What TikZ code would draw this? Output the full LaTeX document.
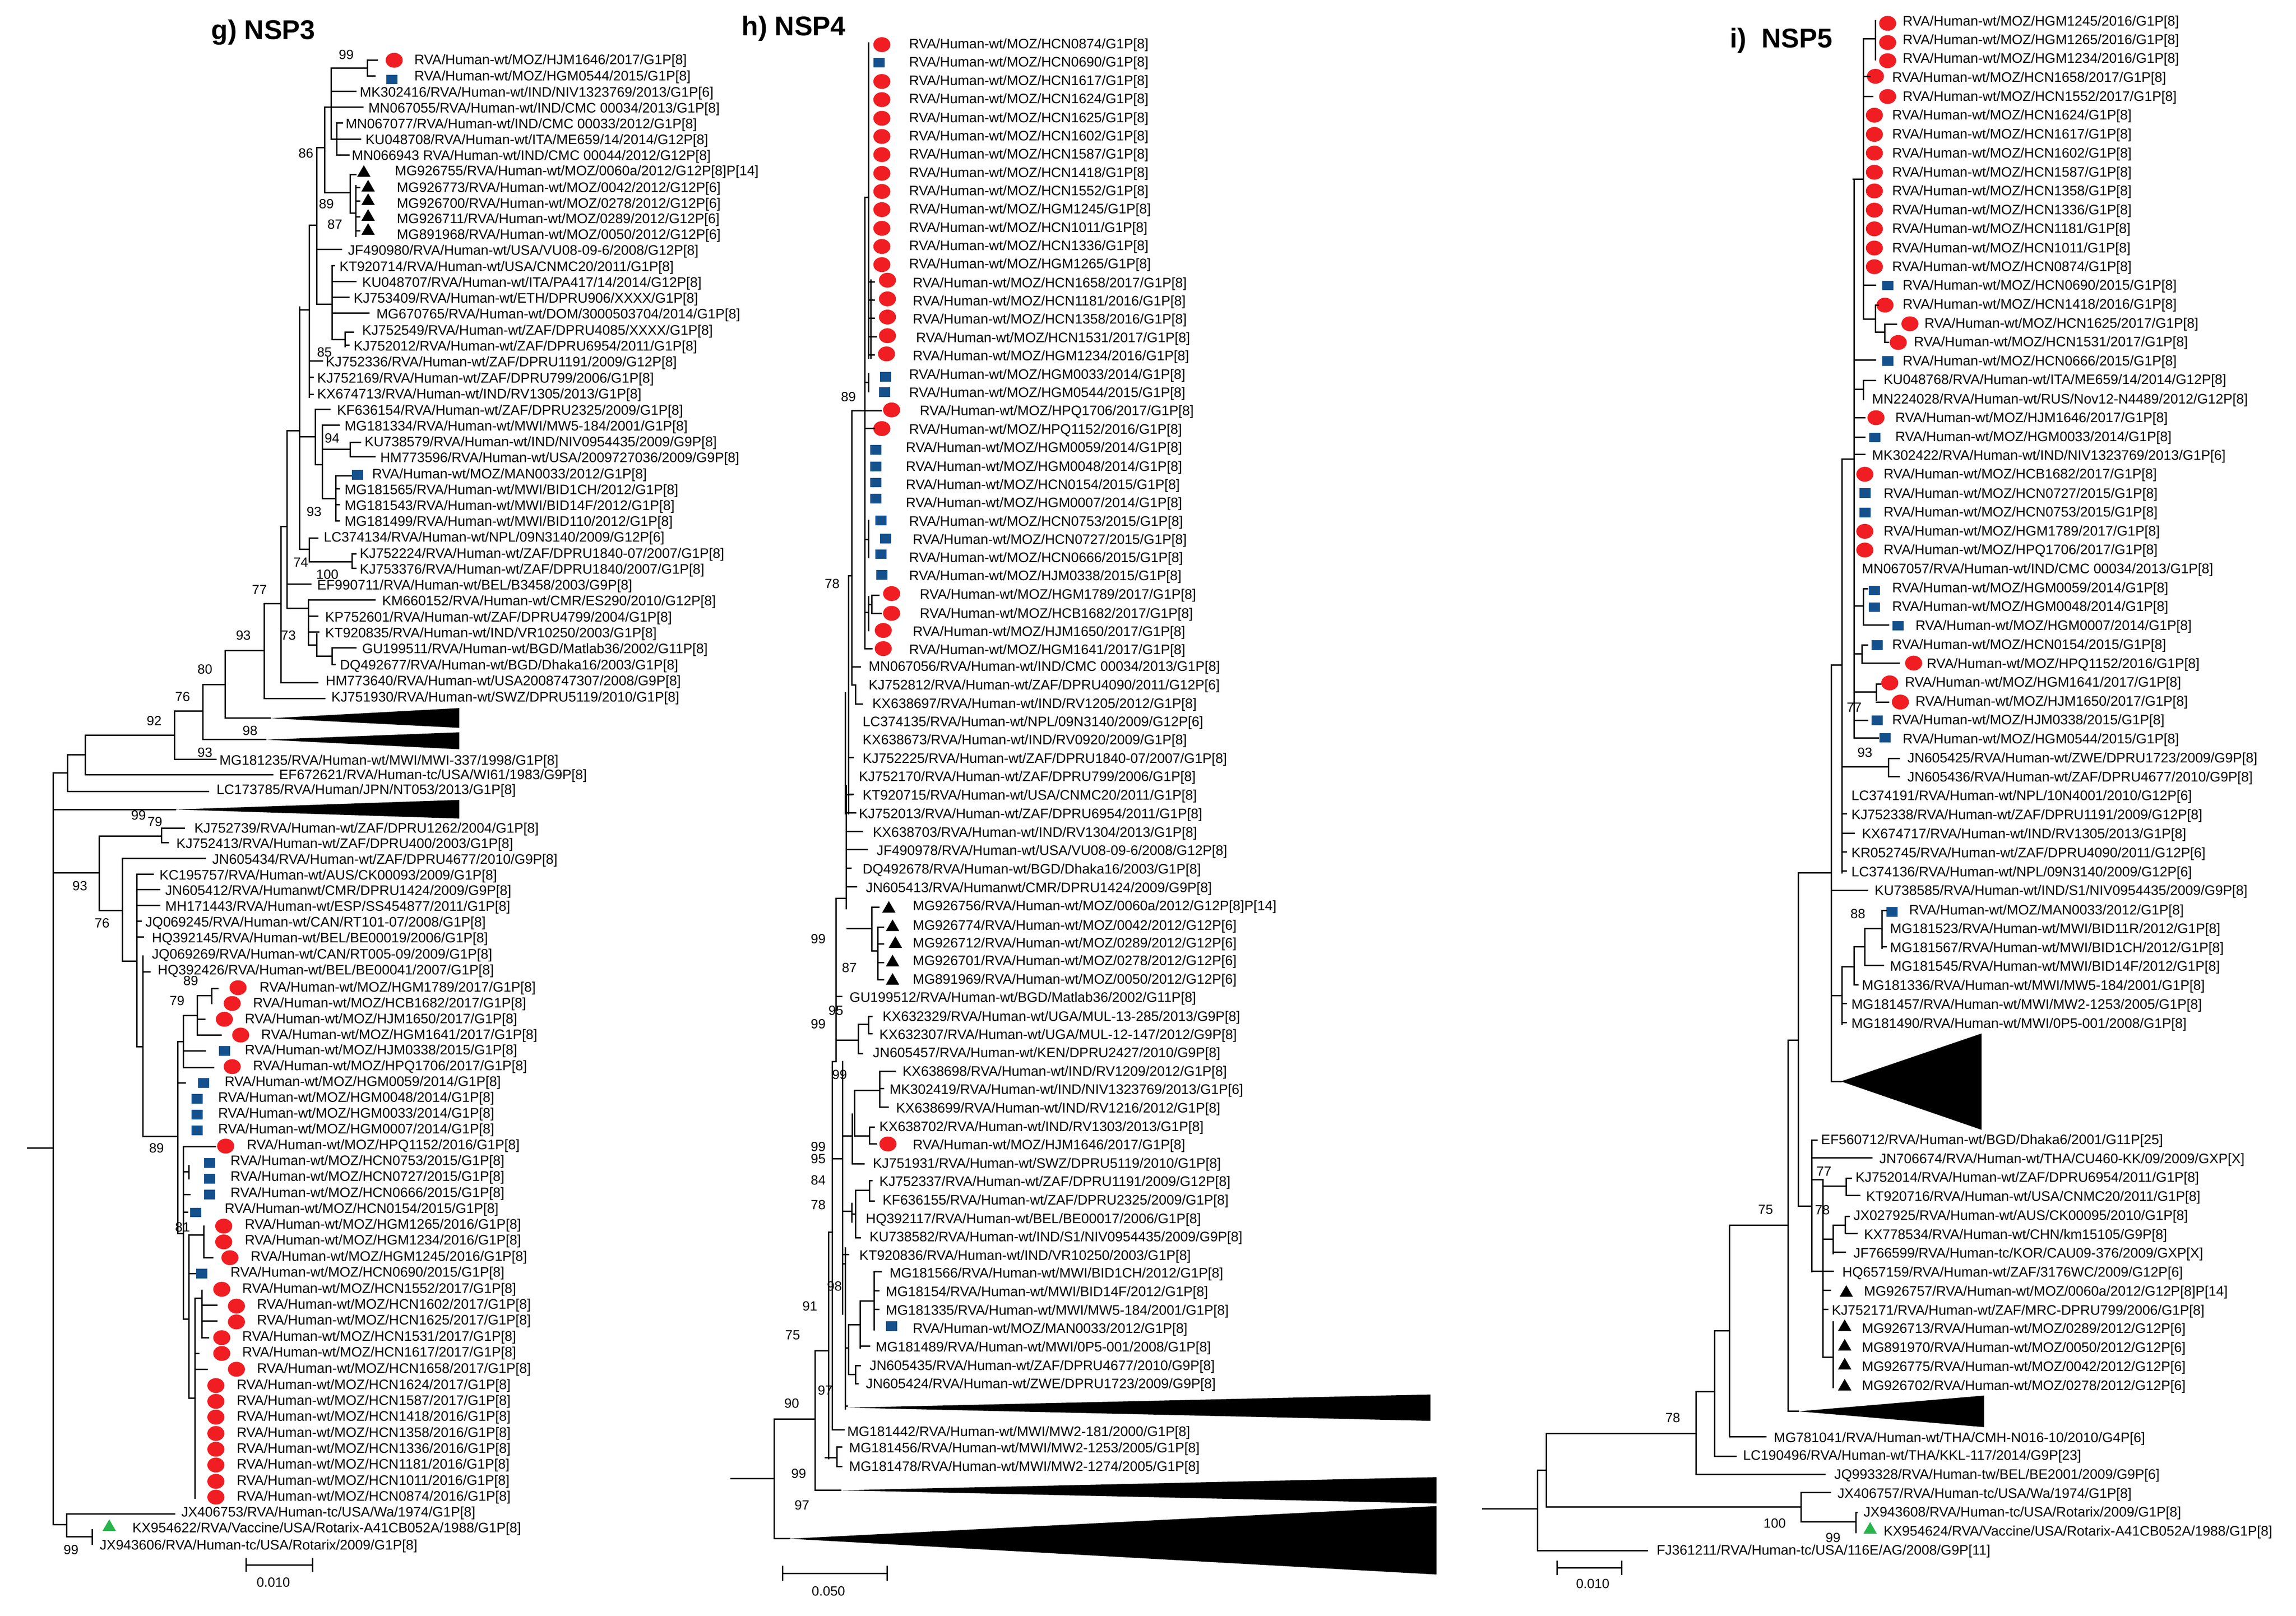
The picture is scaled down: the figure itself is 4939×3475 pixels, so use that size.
\documentclass[tikz,border=0pt]{standalone}
\usepackage{fontspec}
\setmainfont{Liberation Sans}
\usetikzlibrary{shapes.geometric}
\newcounter{nn}
\def\M{RVA/Human-wt/MOZ/}
\newcommand\LF[3]{\stepcounter{nn}\node[lab] (n\arabic{nn}) at (#1,#2) {#3};}
\newcommand\BT[3]{\stepcounter{nn}\node[bs] (n\arabic{nn}) at (#1,#2) {#3};}
\newcommand\mRC[2]{\stepcounter{nn}\node[rc] (n\arabic{nn}) at (#1,#2) {};}
\newcommand\mBS[2]{\stepcounter{nn}\node[sq] (n\arabic{nn}) at (#1,#2) {};}
\newcommand\mTR[2]{\stepcounter{nn}\node[tri] (n\arabic{nn}) at (#1,#2) {};}
\newcommand\mGT[2]{\stepcounter{nn}\node[tri,fill={rgb,255:red,40;green,180;blue,75}] (n\arabic{nn}) at (#1,#2) {};}
\newcommand\HB[3]{\draw[br] (#1,#3)--(#2,#3);}
\newcommand\VB[3]{\draw[br] (#1,#2)--(#1,#3);}
\newcommand\WD[5]{\fill (#1,#2)--(#3,#4)--(#3,#5)--cycle;}
\begin{document}
\begin{tikzpicture}[x=0.3pt,y=-0.3pt,
 lab/.style={anchor=west,inner sep=0pt,font=\fontsize{8.9}{9}\selectfont,text height=0.72em,text depth=0pt},
 bs/.style={inner sep=0pt,font=\fontsize{8.6}{9}\selectfont},
 ttl/.style={anchor=west,inner sep=0pt,font=\fontsize{17.5}{18}\selectfont\bfseries},
 rc/.style={ellipse,fill={rgb,255:red,240;green,30;blue,35},inner sep=0pt,minimum width=11pt,minimum height=9.6pt},
 sq/.style={rectangle,fill={rgb,255:red,20;green,80;blue,140},inner sep=0pt,minimum width=7.2pt,minimum height=6.2pt},
 tri/.style={regular polygon,regular polygon sides=3,fill=black,inner sep=0pt,minimum size=10pt},
 br/.style={line width=0.9pt,line cap=rect}]
\fill[white] (0,0) rectangle (4939,3475);
\useasboundingbox (0,0) rectangle (4939,3475);
% ================= g) NSP3 upper
\begin{scope}[shift={(0,0)},xscale=1.0204,yscale=1.2117]
\stepcounter{nn}\node[ttl] (tg) at (445,57) {g) NSP3};
\mRC{831}{107}\mBS{826}{141}
\LF{873}{104}{\M HJM1646/2017/G1P[8]}
\LF{873}{133}{\M HGM0544/2015/G1P[8]}
\LF{758}{162}{MK302416/RVA/Human-wt/IND/NIV1323769/2013/G1P[6]}
\LF{776}{190}{MN067055/RVA/Human-wt/IND/CMC 00034/2013/G1P[8]}
\LF{728}{218}{MN067077/RVA/Human-wt/IND/CMC 00033/2012/G1P[8]}
\LF{770}{246}{KU048708/RVA/Human-wt/ITA/ME659/14/2014/G12P[8]}
\LF{741}{274}{MN066943 RVA/Human-wt/IND/CMC 00044/2012/G12P[8]}
\mTR{767}{307}\mTR{776}{333}\mTR{776}{357}\mTR{776}{385}\mTR{776}{410}
\LF{832}{302}{MG926755/RVA/Human-wt/MOZ/0060a/2012/G12P[8]P[14]}
\LF{836}{331}{MG926773/RVA/Human-wt/MOZ/0042/2012/G12P[6]}
\LF{836}{359}{MG926700/RVA/Human-wt/MOZ/0278/2012/G12P[6]}
\LF{836}{387}{MG926711/RVA/Human-wt/MOZ/0289/2012/G12P[6]}
\LF{836}{415}{MG891968/RVA/Human-wt/MOZ/0050/2012/G12P[6]}
\LF{733}{443}{JF490980/RVA/Human-wt/USA/VU08-09-6/2008/G12P[8]}
\LF{715}{472}{KT920714/RVA/Human-wt/USA/CNMC20/2011/G1P[8]}
\LF{763}{500}{KU048707/RVA/Human-wt/ITA/PA417/14/2014/G12P[8]}
\LF{745}{528}{KJ753409/RVA/Human-wt/ETH/DPRU906/XXXX/G1P[8]}
\LF{793}{556}{MG670765/RVA/Human-wt/DOM/3000503704/2014/G1P[8]}
\LF{763}{585}{KJ752549/RVA/Human-wt/ZAF/DPRU4085/XXXX/G1P[8]}
\LF{745}{613}{KJ752012/RVA/Human-wt/ZAF/DPRU6954/2011/G1P[8]}
\LF{686}{641}{KJ752336/RVA/Human-wt/ZAF/DPRU1191/2009/G12P[8]}
\LF{668}{670}{KJ752169/RVA/Human-wt/ZAF/DPRU799/2006/G1P[8]}
\LF{668}{698}{KX674713/RVA/Human-wt/IND/RV1305/2013/G1P[8]}
\LF{710}{727}{KF636154/RVA/Human-wt/ZAF/DPRU2325/2009/G1P[8]}
\LF{726}{755}{MG181334/RVA/Human-wt/MWI/MW5-184/2001/G1P[8]}
\LF{768}{783}{KU738579/RVA/Human-wt/IND/NIV0954435/2009/G9P[8]}
\LF{801}{811}{HM773596/RVA/Human-wt/USA/2009727036/2009/G9P[8]}
\mBS{754}{843}
\LF{784}{840}{\M MAN0033/2012/G1P[8]}
\LF{726}{868}{MG181565/RVA/Human-wt/MWI/BID1CH/2012/G1P[8]}
\LF{726}{896}{MG181543/RVA/Human-wt/MWI/BID14F/2012/G1P[8]}
\LF{726}{924}{MG181499/RVA/Human-wt/MWI/BID110/2012/G1P[8]}
\LF{682}{952}{LC374134/RVA/Human-wt/NPL/09N3140/2009/G12P[6]}
\LF{758}{981}{KJ752224/RVA/Human-wt/ZAF/DPRU1840-07/2007/G1P[8]}
\LF{758}{1009}{KJ753376/RVA/Human-wt/ZAF/DPRU1840/2007/G1P[8]}
\LF{668}{1037}{EF990711/RVA/Human-wt/BEL/B3458/2003/G9P[8]}
\LF{805}{1065}{KM660152/RVA/Human-wt/CMR/ES290/2010/G12P[8]}
\LF{685}{1094}{KP752601/RVA/Human-wt/ZAF/DPRU4799/2004/G1P[8]}
\LF{685}{1122}{KT920835/RVA/Human-wt/IND/VR10250/2003/G1P[8]}
\LF{763}{1150}{GU199511/RVA/Human-wt/BGD/Matlab36/2002/G11P[8]}
\LF{716}{1179}{DQ492677/RVA/Human-wt/BGD/Dhaka16/2003/G1P[8]}
\LF{686}{1207}{HM773640/RVA/Human-wt/USA2008747307/2008/G9P[8]}
\LF{698}{1236}{KJ751930/RVA/Human-wt/SWZ/DPRU5119/2010/G1P[8]}
\LF{462}{1348}{MG181235/RVA/Human-wt/MWI/MWI-337/1998/G1P[8]}
\LF{588}{1374}{EF672621/RVA/Human-tc/USA/WI61/1983/G9P[8]}
\LF{456}{1400}{LC173785/RVA/Human/JPN/NT053/2013/G1P[8]}
% bootstraps
\BT{730}{97}{99}\BT{645}{272}{86}\BT{688}{362}{89}\BT{706}{398}{87}\BT{684}{625}{85}
\BT{700}{778}{94}\BT{662}{908}{93}\BT{634}{998}{74}\BT{690}{1020}{100}\BT{547}{1047}{77}
\BT{608}{1128}{73}\BT{513}{1128}{93}\BT{432}{1188}{80}\BT{385}{1237}{76}\BT{527}{1297}{98}
\BT{325}{1280}{92}\BT{432}{1336}{93}\BT{292}{1447}{99}
% branches
\VB{775}{107}{135}\HB{775}{795}{107}\HB{775}{790}{135}\HB{698}{775}{121}
\VB{698}{121}{247}\HB{698}{750}{162}\HB{698}{765}{190}\HB{698}{710}{247}
\VB{710}{218}{275}\HB{710}{722}{218}\HB{710}{760}{247}\HB{710}{735}{275}
\VB{685}{190}{342}\HB{685}{698}{190}\HB{685}{738}{342}
\VB{738}{310}{378}\HB{738}{750}{310}\HB{738}{750}{378}\VB{750}{330}{420}
\HB{750}{758}{333}\HB{750}{758}{357}\HB{750}{758}{385}\HB{750}{758}{410}
\VB{668}{262}{540}\HB{668}{685}{262}\HB{668}{720}{443}\HB{668}{700}{540}
\VB{700}{472}{603}\HB{700}{705}{472}\HB{700}{750}{500}\HB{700}{735}{528}\HB{700}{778}{556}\HB{700}{728}{603}
\VB{728}{590}{615}\HB{728}{745}{590}\HB{728}{735}{613}
\VB{652}{400}{705}\HB{652}{668}{400}\HB{652}{680}{641}\HB{652}{660}{670}\HB{652}{660}{700}
\VB{665}{727}{825}\HB{665}{695}{727}\HB{665}{680}{825}\VB{680}{755}{885}\HB{680}{715}{755}
\HB{680}{738}{798}\VB{738}{785}{811}\HB{738}{760}{785}\HB{738}{790}{811}
\HB{680}{708}{885}\VB{708}{845}{925}\HB{708}{740}{845}\HB{708}{715}{868}\HB{708}{715}{896}\HB{708}{715}{925}
\VB{632}{545}{975}\HB{632}{652}{550}\HB{632}{665}{775}\HB{632}{652}{975}
\VB{652}{955}{997}\HB{652}{670}{955}\HB{652}{742}{997}\VB{742}{983}{1009}\HB{742}{750}{983}\HB{742}{750}{1009}
\VB{605}{765}{1080}\HB{605}{632}{765}\HB{605}{655}{1037}\HB{605}{650}{1080}
\VB{650}{1065}{1145}\HB{650}{790}{1065}\HB{650}{670}{1094}\HB{650}{668}{1145}\HB{650}{672}{1122}
\VB{668}{1125}{1165}\HB{668}{700}{1165}\VB{700}{1150}{1180}\HB{700}{750}{1150}\HB{700}{706}{1180}
\VB{592}{935}{1212}\HB{592}{605}{935}\HB{592}{670}{1212}
\VB{557}{1072}{1240}\HB{557}{592}{1072}\HB{557}{685}{1240}
\VB{475}{1155}{1275}\HB{475}{557}{1155}\HB{475}{570}{1275}\WD{570}{1275}{968}{1257}{1292}
\VB{428}{1215}{1313}\HB{428}{475}{1215}\HB{428}{560}{1313}\WD{560}{1313}{968}{1300}{1330}
\VB{368}{1262}{1348}\HB{368}{428}{1262}\HB{368}{455}{1348}
\VB{180}{1305}{1375}\HB{180}{368}{1305}\HB{180}{575}{1375}
\VB{143}{1340}{1405}\HB{143}{180}{1340}\HB{143}{440}{1405}
\HB{113}{143}{1372}\HB{113}{370}{1437}\WD{370}{1437}{968}{1420}{1453}
\end{scope}
% ================= g) NSP3 lower
\begin{scope}[shift={(0,1700)},xscale=0.7015,yscale=1.1320]
\VB{163}{-33}{1395}\HB{85}{163}{680}
\LF{595}{70}{KJ752739/RVA/Human-wt/ZAF/DPRU1262/2004/G1P[8]}
\LF{540}{99}{KJ752413/RVA/Human-wt/ZAF/DPRU400/2003/G1P[8]}
\LF{650}{129}{JN605434/RVA/Human-wt/ZAF/DPRU4677/2010/G9P[8]}
\LF{488}{159}{KC195757/RVA/Human-wt/AUS/CK00093/2009/G1P[8]}
\LF{506}{189}{JN605412/RVA/Humanwt/CMR/DPRU1424/2009/G9P[8]}
\LF{506}{219}{MH171443/RVA/Human-wt/ESP/SS454877/2011/G1P[8]}
\LF{445}{249}{JQ069245/RVA/Human-wt/CAN/RT101-07/2008/G1P[8]}
\LF{465}{279}{HQ392145/RVA/Human-wt/BEL/BE00019/2006/G1P[8]}
\LF{465}{310}{JQ069269/RVA/Human-wt/CAN/RT005-09/2009/G1P[8]}
\LF{483}{340}{HQ392426/RVA/Human-wt/BEL/BE00041/2007/G1P[8]}
\mRC{730}{375}\LF{795}{372}{\M HGM1789/2017/G1P[8]}
\mRC{712}{405}\LF{775}{402}{\M HCB1682/2017/G1P[8]}
\mRC{688}{435}\LF{750}{432}{\M HJM1650/2017/G1P[8]}
\mRC{738}{465}\LF{800}{462}{\M HGM1641/2017/G1P[8]}
\mBS{688}{495}\LF{750}{492}{\M HJM0338/2015/G1P[8]}
\mRC{712}{525}\LF{775}{522}{\M HPQ1706/2017/G1P[8]}
\mBS{625}{556}\LF{688}{552}{\M HGM0059/2014/G1P[8]}
\mBS{605}{586}\LF{668}{582}{\M HGM0048/2014/G1P[8]}
\mBS{605}{616}\LF{668}{612}{\M HGM0033/2014/G1P[8]}
\mBS{605}{646}\LF{668}{642}{\M HGM0007/2014/G1P[8]}
\mRC{692}{676}\LF{756}{672}{\M HPQ1152/2016/G1P[8]}
\mBS{643}{708}\LF{706}{702}{\M HCN0753/2015/G1P[8]}
\mBS{643}{738}\LF{706}{732}{\M HCN0727/2015/G1P[8]}
\mBS{643}{768}\LF{706}{763}{\M HCN0666/2015/G1P[8]}
\mBS{600}{802}\LF{688}{793}{\M HCN0154/2015/G1P[8]}
\mRC{686}{828}\LF{750}{823}{\M HGM1265/2016/G1P[8]}
\mRC{686}{858}\LF{750}{853}{\M HGM1234/2016/G1P[8]}
\mRC{705}{888}\LF{768}{884}{\M HGM1245/2016/G1P[8]}
\mBS{618}{918}\LF{706}{914}{\M HCN0690/2015/G1P[8]}
\mRC{680}{948}\LF{742}{945}{\M HCN1552/2017/G1P[8]}
\mRC{725}{980}\LF{787}{975}{\M HCN1602/2017/G1P[8]}
\mRC{725}{1010}\LF{787}{1005}{\M HCN1625/2017/G1P[8]}
\mRC{680}{1040}\LF{742}{1036}{\M HCN1531/2017/G1P[8]}
\mRC{680}{1070}\LF{742}{1066}{\M HCN1617/2017/G1P[8]}
\mRC{725}{1100}\LF{787}{1097}{\M HCN1658/2017/G1P[8]}
\mRC{662}{1131}\LF{725}{1128}{\M HCN1624/2017/G1P[8]}
\mRC{662}{1161}\LF{725}{1158}{\M HCN1587/2017/G1P[8]}
\mRC{662}{1191}\LF{725}{1188}{\M HCN1418/2016/G1P[8]}
\mRC{662}{1222}\LF{725}{1219}{\M HCN1358/2016/G1P[8]}
\mRC{662}{1252}\LF{725}{1249}{\M HCN1336/2016/G1P[8]}
\mRC{662}{1282}\LF{725}{1279}{\M HCN1181/2016/G1P[8]}
\mRC{662}{1313}\LF{725}{1310}{\M HCN1011/2016/G1P[8]}
\mRC{662}{1343}\LF{725}{1340}{\M HCN0874/2016/G1P[8]}
\LF{555}{1370}{JX406753/RVA/Human-tc/USA/Wa/1974/G1P[8]}
\mGT{335}{1400}\LF{405}{1400}{KX954622/RVA/Vaccine/USA/Rotarix-A41CB052A/1988/G1P[8]}
\LF{305}{1432}{JX943606/RVA/Human-tc/USA/Rotarix/2009/G1P[8]}
\BT{475}{60}{79}\BT{245}{182}{93}\BT{313}{252}{76}\BT{480}{680}{89}\BT{585}{362}{89}
\BT{543}{400}{79}\BT{560}{830}{81}\BT{218}{1443}{99}
\VB{495}{72}{99}\HB{495}{565}{72}\HB{495}{515}{99}
\VB{305}{87}{228}\HB{305}{495}{87}\HB{163}{305}{157}
\VB{375}{129}{325}\HB{375}{630}{129}\HB{305}{375}{228}
\VB{420}{159}{487}\HB{420}{470}{159}\HB{420}{490}{189}\HB{420}{490}{219}\HB{420}{432}{249}\HB{420}{440}{279}\HB{375}{420}{325}
\VB{438}{315}{658}\HB{420}{438}{487}\HB{438}{460}{345}\HB{438}{545}{658}
\VB{650}{377}{405}\HB{650}{668}{377}\VB{605}{390}{465}\HB{605}{650}{390}\HB{605}{628}{435}\HB{605}{678}{465}
\VB{562}{428}{527}\HB{562}{605}{428}\HB{562}{630}{495}\HB{562}{655}{527}
\VB{545}{477}{842}\HB{545}{562}{477}\HB{545}{568}{556}\HB{545}{562}{842}
\VB{562}{677}{1005}\HB{562}{660}{677}\VB{580}{713}{738}\HB{562}{580}{725}\HB{562}{582}{768}\HB{562}{575}{802}
\VB{580}{845}{1155}\HB{562}{580}{1005}\HB{580}{625}{845}\VB{625}{828}{888}\HB{625}{652}{888}\HB{580}{600}{918}
\VB{620}{950}{1040}\HB{598}{620}{965}\HB{620}{665}{978}\HB{620}{665}{1008}\HB{620}{640}{1040}
\VB{598}{965}{1345}\HB{580}{598}{1155}\HB{598}{610}{1070}\HB{598}{635}{1100}
\VB{205}{1375}{1418}\HB{163}{205}{1395}\HB{205}{535}{1375}\HB{205}{283}{1418}\VB{283}{1405}{1432}
\HB{755}{958}{1472}\VB{755}{1460}{1484}\VB{958}{1460}{1484}
\BT{838}{1505}{0.010}
\end{scope}
% ================= h) NSP4 upper
\begin{scope}[shift={(1550,0)},xscale=1,yscale=1.1161]
\stepcounter{nn}\node[ttl] (th) at (45,55) {h) NSP4};
\foreach \y/\c/\t in {83/r/HCN0874/2016,118/b/HCN0690/2015,154/r/HCN1617/2017,189/r/HCN1624/2017,225/r/HCN1625/2017,260/r/HCN1602/2017,295/r/HCN1587/2017,331/r/HCN1418/2016,366/r/HCN1552/2017,401/r/HGM1245/2016,437/r/HCN1011/2016,472/r/HCN1336/2016,507/r/HGM1265/2016}{
 \if\c r\mRC{347}{\y+3}\else\mBS{341}{\y+3}\fi
 \LF{405}{\y}{\M\t/G1P[8]}}
\mRC{359}{540}\LF{413}{543}{\M HCN1658/2017/G1P[8]}
\mRC{359}{576}\LF{413}{578}{\M HCN1181/2016/G1P[8]}
\mRC{359}{611}\LF{413}{613}{\M HCN1358/2016/G1P[8]}
\mRC{359}{647}\LF{420}{649}{\M HCN1531/2017/G1P[8]}
\mRC{357}{682}\LF{413}{684}{\M HGM1234/2016/G1P[8]}
\mBS{355}{726}\LF{405}{720}{\M HGM0033/2014/G1P[8]}
\mBS{353}{756}\LF{405}{755}{\M HGM0544/2015/G1P[8]}
\mRC{368}{790}\LF{428}{790}{\M HPQ1706/2017/G1P[8]}
\mRC{347}{826}\LF{405}{826}{\M HPQ1152/2016/G1P[8]}
\mBS{334}{867}\LF{398}{861}{\M HGM0059/2014/G1P[8]}
\mBS{334}{899}\LF{398}{897}{\M HGM0048/2014/G1P[8]}
\mBS{334}{930}\LF{398}{932}{\M HCN0154/2015/G1P[8]}
\mBS{334}{961}\LF{398}{967}{\M HGM0007/2014/G1P[8]}
\mBS{345}{1003}\LF{405}{1003}{\M HCN0753/2015/G1P[8]}
\mBS{355}{1038}\LF{413}{1038}{\M HCN0727/2015/G1P[8]}
\mBS{345}{1068}\LF{405}{1073}{\M HCN0666/2015/G1P[8]}
\mBS{347}{1108}\LF{405}{1108}{\M HJM0338/2015/G1P[8]}
\mRC{368}{1144}\LF{428}{1144}{\M HGM1789/2017/G1P[8]}
\mRC{368}{1182}\LF{428}{1180}{\M HCB1682/2017/G1P[8]}
\mRC{350}{1215}\LF{413}{1215}{\M HJM1650/2017/G1P[8]}
\mRC{350}{1250}\LF{405}{1250}{\M HGM1641/2017/G1P[8]}
\LF{318}{1283}{MN067056/RVA/Human-wt/IND/CMC 00034/2013/G1P[8]}
\LF{318}{1318}{KJ752812/RVA/Human-wt/ZAF/DPRU4090/2011/G12P[6]}
\LF{326}{1354}{KX638697/RVA/Human-wt/IND/RV1205/2012/G1P[8]}
\LF{305}{1389}{LC374135/RVA/Human-wt/NPL/09N3140/2009/G12P[6]}
\LF{305}{1424}{KX638673/RVA/Human-wt/IND/RV0920/2009/G1P[8]}
\LF{305}{1460}{KJ752225/RVA/Human-wt/ZAF/DPRU1840-07/2007/G1P[8]}
\LF{297}{1495}{KJ752170/RVA/Human-wt/ZAF/DPRU799/2006/G1P[8]}
\LF{305}{1531}{KT920715/RVA/Human-wt/USA/CNMC20/2011/G1P[8]}
\BT{275}{765}{89}\BT{240}{1125}{78}
\VB{318}{83}{690}\VB{323}{540}{690}\HB{318}{330}{543}\HB{318}{330}{578}\HB{318}{330}{613}\HB{318}{335}{649}\HB{318}{330}{684}
\VB{310}{380}{1250}\HB{310}{318}{380}\VB{318}{720}{755}\HB{310}{318}{737}\HB{282}{345}{792}\HB{310}{330}{826}
\VB{318}{1003}{1075}\HB{310}{318}{1040}\VB{318}{1150}{1215}\HB{310}{318}{1180}\VB{325}{1147}{1182}\HB{325}{340}{1147}\HB{325}{345}{1182}\HB{318}{325}{1165}
\HB{310}{325}{1250}
\VB{282}{792}{1320}\HB{282}{300}{1285}\VB{290}{1320}{1357}\HB{282}{290}{1320}\HB{290}{305}{1357}
\VB{275}{1110}{1568}\HB{275}{282}{1110}\HB{275}{285}{1460}\HB{275}{285}{1531}\VB{268}{1335}{1568}
\end{scope}
% ================= h) NSP4 lower
\begin{scope}[shift={(1550,1700)},xscale=1,yscale=1.1320]
\LF{297}{43}{KJ752013/RVA/Human-wt/ZAF/DPRU6954/2011/G1P[8]}
\LF{327}{78}{KX638703/RVA/Human-wt/IND/RV1304/2013/G1P[8]}
\LF{335}{113}{JF490978/RVA/Human-wt/USA/VU08-09-6/2008/G12P[8]}
\LF{305}{148}{DQ492678/RVA/Human-wt/BGD/Dhaka16/2003/G1P[8]}
\LF{312}{183}{JN605413/RVA/Humanwt/CMR/DPRU1424/2009/G9P[8]}
\mTR{362}{225}\LF{413}{218}{MG926756/RVA/Human-wt/MOZ/0060a/2012/G12P[8]P[14]}
\mTR{370}{260}\LF{413}{255}{MG926774/RVA/Human-wt/MOZ/0042/2012/G12P[6]}
\mTR{376}{292}\LF{413}{288}{MG926712/RVA/Human-wt/MOZ/0289/2012/G12P[6]}
\mTR{370}{327}\LF{413}{322}{MG926701/RVA/Human-wt/MOZ/0278/2012/G12P[6]}
\mTR{370}{362}\LF{413}{357}{MG891969/RVA/Human-wt/MOZ/0050/2012/G12P[6]}
\LF{277}{392}{GU199512/RVA/Human-wt/BGD/Matlab36/2002/G11P[8]}
\LF{348}{428}{KX632329/RVA/Human-wt/UGA/MUL-13-285/2013/G9P[8]}
\LF{341}{462}{KX632307/RVA/Human-wt/UGA/MUL-12-147/2012/G9P[8]}
\LF{327}{497}{JN605457/RVA/Human-wt/KEN/DPRU2427/2010/G9P[8]}
\LF{391}{532}{KX638698/RVA/Human-wt/IND/RV1209/2012/G1P[8]}
\LF{363}{567}{MK302419/RVA/Human-wt/IND/NIV1323769/2013/G1P[6]}
\LF{377}{602}{KX638699/RVA/Human-wt/IND/RV1216/2012/G1P[8]}
\LF{341}{637}{KX638702/RVA/Human-wt/IND/RV1303/2013/G1P[8]}
\mRC{360}{672}\LF{413}{672}{\M HJM1646/2017/G1P[8]}
\LF{327}{707}{KJ751931/RVA/Human-wt/SWZ/DPRU5119/2010/G1P[8]}
\LF{341}{742}{KJ752337/RVA/Human-wt/ZAF/DPRU1191/2009/G12P[8]}
\LF{348}{777}{KF636155/RVA/Human-wt/ZAF/DPRU2325/2009/G1P[8]}
\LF{312}{812}{HQ392117/RVA/Human-wt/BEL/BE00017/2006/G1P[8]}
\LF{320}{847}{KU738582/RVA/Human-wt/IND/S1/NIV0954435/2009/G9P[8]}
\LF{298}{882}{KT920836/RVA/Human-wt/IND/VR10250/2003/G1P[8]}
\LF{363}{916}{MG181566/RVA/Human-wt/MWI/BID1CH/2012/G1P[8]}
\LF{355}{951}{MG18154/RVA/Human-wt/MWI/BID14F/2012/G1P[8]}
\LF{355}{986}{MG181335/RVA/Human-wt/MWI/MW5-184/2001/G1P[8]}
\mBS{368}{1018}\LF{413}{1021}{\M MAN0033/2012/G1P[8]}
\LF{333}{1056}{MG181489/RVA/Human-wt/MWI/0P5-001/2008/G1P[8]}
\LF{320}{1091}{JN605435/RVA/Human-wt/ZAF/DPRU4677/2010/G9P[8]}
\LF{312}{1126}{JN605424/RVA/Human-wt/ZWE/DPRU1723/2009/G9P[8]}
\LF{272}{1217}{MG181442/RVA/Human-wt/MWI/MW2-181/2000/G1P[8]}
\LF{276}{1248}{MG181456/RVA/Human-wt/MWI/MW2-1253/2005/G1P[8]}
\LF{276}{1283}{MG181478/RVA/Human-wt/MWI/MW2-1274/2005/G1P[8]}
\BT{277}{337}{87}\BT{210}{282}{99}\BT{248}{418}{95}\BT{210}{444}{99}\BT{256}{540}{99}
\BT{210}{677}{99}\BT{210}{700}{95}\BT{210}{741}{84}\BT{210}{788}{78}\BT{245}{942}{98}
\BT{192}{980}{91}\BT{225}{1140}{97}\BT{155}{1035}{75}\BT{153}{1165}{90}\BT{168}{1298}{99}\BT{175}{1358}{97}
\VB{270}{-8}{225}\HB{270}{282}{8}\HB{270}{290}{43}\HB{270}{305}{78}\HB{270}{315}{113}\HB{270}{280}{148}\HB{270}{292}{183}
\HB{272}{325}{263}\VB{325}{222}{305}\HB{325}{340}{222}\HB{325}{338}{305}\VB{338}{260}{360}
\HB{338}{350}{260}\HB{338}{350}{292}\HB{338}{350}{327}\HB{338}{350}{360}
\VB{248}{205}{515}\HB{248}{270}{205}\HB{248}{260}{392}
\VB{318}{430}{462}\HB{318}{325}{430}\HB{318}{325}{462}\VB{296}{445}{500}\HB{296}{318}{445}\HB{296}{305}{500}\HB{248}{296}{475}
\VB{240}{515}{1215}\HB{240}{248}{515}
\VB{342}{534}{602}\HB{342}{375}{534}\HB{342}{350}{567}\HB{342}{360}{602}
\VB{320}{640}{672}\HB{320}{330}{640}\HB{320}{335}{672}
\VB{288}{570}{657}\HB{288}{342}{570}\HB{288}{320}{657}\VB{283}{615}{710}\HB{283}{308}{710}\HB{262}{283}{657}
\VB{320}{742}{780}\HB{320}{325}{742}\HB{320}{330}{780}\VB{290}{760}{850}\HB{290}{320}{760}\HB{290}{300}{850}
\VB{282}{785}{820}\HB{282}{290}{805}\HB{262}{282}{800}\HB{262}{275}{882}
\VB{330}{915}{1025}\HB{330}{345}{915}\HB{330}{340}{951}\HB{330}{340}{986}\HB{300}{330}{970}
\VB{300}{970}{1060}\HB{300}{320}{1056}\HB{275}{300}{1015}
\VB{290}{1093}{1128}\HB{275}{290}{1110}\HB{290}{300}{1093}\HB{290}{295}{1128}
\VB{262}{515}{995}\HB{240}{262}{700}\VB{268}{870}{1175}\HB{262}{268}{900}\VB{275}{1015}{1110}\HB{268}{275}{1060}
\HB{268}{272}{1170}\WD{272}{1173}{1527}{1148}{1198}
\HB{240}{265}{1215}\VB{250}{1248}{1285}\HB{250}{260}{1248}\HB{250}{260}{1285}\HB{225}{250}{1268}
\VB{232}{840}{1270}\HB{232}{240}{840}\HB{225}{232}{1268}
\VB{203}{1065}{1330}\HB{203}{232}{1065}\HB{203}{258}{1330}\WD{258}{1330}{1540}{1305}{1355}
\VB{115}{1195}{1422}\HB{115}{203}{1195}\HB{22}{115}{1308}\HB{115}{148}{1422}\WD{148}{1422}{1540}{1360}{1490}
\HB{133}{358}{1488}\VB{133}{1475}{1500}\VB{358}{1475}{1500}
\BT{232}{1522}{0.050}
\end{scope}
% ================= i) NSP5 upper
\begin{scope}[shift={(3150,0)},xscale=1.1410,yscale=1.1161]
\stepcounter{nn}\node[ttl] (ti) at (500,78) {i)\ \ NSP5};
\mRC{798}{45}\LF{826}{39}{\M HGM1245/2016/G1P[8]}
\mRC{798}{82}\LF{826}{75}{\M HGM1265/2016/G1P[8]}
\mRC{798}{117}\LF{826}{111}{\M HGM1234/2016/G1P[8]}
\mRC{775}{147}\LF{806}{147}{\M HCN1658/2017/G1P[8]}
\mRC{798}{186}\LF{826}{184}{\M HCN1552/2017/G1P[8]}
\foreach \y/\t in {220/HCN1624/2017,257/HCN1617/2017,293/HCN1602/2017,330/HCN1587/2017,366/HCN1358/2016,403/HCN1336/2016,439/HCN1181/2016,476/HCN1011/2016,512/HCN0874/2016}{
 \mRC{773}{\y+2}\LF{806}{\y}{\M\t/G1P[8]}}
\mBS{798}{550}\LF{826}{548}{\M HCN0690/2015/G1P[8]}
\mRC{793}{588}\LF{826}{585}{\M HCN1418/2016/G1P[8]}
\mRC{840}{624}\LF{867}{621}{\M HCN1625/2017/G1P[8]}
\mRC{818}{660}\LF{847}{657}{\M HCN1531/2017/G1P[8]}
\mBS{798}{696}\LF{826}{694}{\M HCN0666/2015/G1P[8]}
\LF{790}{730}{KU048768/RVA/Human-wt/ITA/ME659/14/2014/G12P[8]}
\LF{768}{767}{MN224028/RVA/Human-wt/RUS/Nov12-N4489/2012/G12P[8]}
\mRC{776}{805}\LF{812}{803}{\M HJM1646/2017/G1P[8]}
\mBS{774}{843}\LF{812}{840}{\M HGM0033/2014/G1P[8]}
\LF{768}{876}{MK302422/RVA/Human-wt/IND/NIV1323769/2013/G1P[6]}
\mRC{755}{914}\LF{790}{912}{\M HCB1682/2017/G1P[8]}
\mBS{755}{950}\LF{790}{949}{\M HCN0727/2015/G1P[8]}
\mBS{755}{988}\LF{790}{985}{\M HCN0753/2015/G1P[8]}
\mRC{755}{1024}\LF{790}{1022}{\M HGM1789/2017/G1P[8]}
\mRC{755}{1060}\LF{790}{1058}{\M HPQ1706/2017/G1P[8]}
\LF{749}{1094}{MN067057/RVA/Human-wt/IND/CMC 00034/2013/G1P[8]}
\mBS{773}{1138}\LF{806}{1131}{\M HGM0059/2014/G1P[8]}
\mBS{773}{1170}\LF{806}{1167}{\M HGM0048/2014/G1P[8]}
\mBS{818}{1206}\LF{850}{1204}{\M HGM0007/2014/G1P[8]}
\mBS{778}{1243}\LF{806}{1240}{\M HCN0154/2015/G1P[8]}
\mRC{847}{1278}\LF{871}{1277}{\M HPQ1152/2016/G1P[8]}
\mRC{802}{1316}\LF{830}{1313}{\M HGM1641/2017/G1P[8]}
\mRC{822}{1353}\LF{850}{1350}{\M HJM1650/2017/G1P[8]}
\mBS{778}{1388}\LF{806}{1386}{\M HJM0338/2015/G1P[8]}
\mBS{793}{1422}\LF{826}{1422}{\M HGM0544/2015/G1P[8]}
\LF{835}{1459}{JN605425/RVA/Human-wt/ZWE/DPRU1723/2009/G9P[8]}
\LF{835}{1496}{JN605436/RVA/Human-wt/ZAF/DPRU4677/2010/G9P[8]}
\LF{729}{1532}{LC374191/RVA/Human-wt/NPL/10N4001/2010/G12P[6]}
\BT{735}{1363}{77}\BT{755}{1450}{93}
\VB{775}{40}{115}\HB{752}{775}{75}\VB{752}{75}{615}\HB{752}{765}{147}\HB{752}{770}{186}\HB{752}{775}{550}
\VB{775}{588}{640}\HB{752}{775}{615}\HB{775}{780}{588}\VB{793}{625}{660}\HB{775}{793}{640}\HB{793}{815}{625}\HB{793}{800}{660}
\HB{733}{752}{345}\VB{735}{345}{1422}\HB{735}{775}{694}
\VB{752}{733}{770}\HB{752}{775}{733}\HB{735}{752}{750}\HB{735}{755}{805}\HB{735}{755}{843}\HB{735}{755}{876}
\VB{752}{1135}{1205}\HB{735}{752}{1168}\HB{752}{760}{1135}\HB{752}{800}{1205}
\VB{750}{1243}{1278}\HB{735}{750}{1260}\HB{750}{760}{1243}\HB{750}{820}{1278}
\VB{777}{1318}{1350}\HB{735}{777}{1334}\HB{777}{785}{1318}\HB{777}{800}{1353}\HB{735}{760}{1388}\HB{735}{780}{1422}
\VB{712}{885}{1568}\HB{712}{735}{885}\VB{800}{1462}{1497}\HB{712}{800}{1478}\HB{800}{820}{1462}\HB{800}{820}{1497}
\HB{692}{712}{1282}\VB{692}{1282}{1568}
\end{scope}
% ================= i) NSP5 lower
\begin{scope}[shift={(3150,1700)},xscale=1.1410,yscale=1.1320]
\LF{729}{45}{KJ752338/RVA/Human-wt/ZAF/DPRU1191/2009/G12P[8]}
\LF{749}{81}{KX674717/RVA/Human-wt/IND/RV1305/2013/G1P[8]}
\LF{729}{117}{KR052745/RVA/Human-wt/ZAF/DPRU4090/2011/G12P[6]}
\LF{729}{153}{LC374136/RVA/Human-wt/NPL/09N3140/2009/G12P[6]}
\LF{773}{189}{KU738585/RVA/Human-wt/IND/S1/NIV0954435/2009/G9P[8]}
\mBS{806}{231}\LF{838}{226}{\M MAN0033/2012/G1P[8]}
\LF{802}{261}{MG181523/RVA/Human-wt/MWI/BID11R/2012/G1P[8]}
\LF{802}{297}{MG181567/RVA/Human-wt/MWI/BID1CH/2012/G1P[8]}
\LF{802}{333}{MG181545/RVA/Human-wt/MWI/BID14F/2012/G1P[8]}
\LF{749}{369}{MG181336/RVA/Human-wt/MWI/MW5-184/2001/G1P[8]}
\LF{729}{405}{MG181457/RVA/Human-wt/MWI/MW2-1253/2005/G1P[8]}
\LF{729}{441}{MG181490/RVA/Human-wt/MWI/0P5-001/2008/G1P[8]}
\LF{672}{662}{EF560712/RVA/Human-wt/BGD/Dhaka6/2001/G11P[25]}
\LF{782}{698}{JN706674/RVA/Human-wt/THA/CU460-KK/09/2009/GXP[X]}
\LF{737}{734}{KJ752014/RVA/Human-wt/ZAF/DPRU6954/2011/G1P[8]}
\LF{757}{770}{KT920716/RVA/Human-wt/USA/CNMC20/2011/G1P[8]}
\LF{733}{806}{JX027925/RVA/Human-wt/AUS/CK00095/2010/G1P[8]}
\LF{753}{842}{KX778534/RVA/Human-wt/CHN/km15105/G9P[8]}
\LF{733}{878}{JF766599/RVA/Human-tc/KOR/CAU09-376/2009/GXP[X]}
\LF{712}{914}{HQ657159/RVA/Human-wt/ZAF/3176WC/2009/G12P[6]}
\mTR{720}{955}\LF{753}{950}{MG926757/RVA/Human-wt/MOZ/0060a/2012/G12P[8]P[14]}
\LF{692}{986}{KJ752171/RVA/Human-wt/ZAF/MRC-DPRU799/2006/G1P[8]}
\mTR{717}{1020}\LF{749}{1021}{MG926713/RVA/Human-wt/MOZ/0289/2012/G12P[6]}
\mTR{717}{1057}\LF{749}{1057}{MG891970/RVA/Human-wt/MOZ/0050/2012/G12P[6]}
\mTR{717}{1093}\LF{749}{1093}{MG926775/RVA/Human-wt/MOZ/0042/2012/G12P[6]}
\mTR{717}{1133}\LF{749}{1129}{MG926702/RVA/Human-wt/MOZ/0278/2012/G12P[6]}
\LF{583}{1228}{MG781041/RVA/Human-wt/THA/CMH-N016-10/2010/G4P[6]}
\LF{525}{1262}{LC190496/RVA/Human-wt/THA/KKL-117/2014/G9P[23]}
\LF{697}{1298}{JQ993328/RVA/Human-tw/BEL/BE2001/2009/G9P[6]}
\LF{703}{1334}{JX406757/RVA/Human-tc/USA/Wa/1974/G1P[8]}
\LF{752}{1370}{JX943608/RVA/Human-tc/USA/Rotarix/2009/G1P[8]}
\mGT{765}{1405}\LF{790}{1406}{KX954624/RVA/Vaccine/USA/Rotarix-A41CB052A/1988/G1P[8]}
\LF{362}{1442}{FJ361211/RVA/Human-tc/USA/116E/AG/2008/G9P[11]}
\BT{742}{235}{88}\BT{678}{724}{77}\BT{675}{797}{78}\BT{568}{797}{75}\BT{393}{1192}{78}\BT{585}{1393}{100}\BT{695}{1420}{99}
\VB{712}{-2}{157}\HB{712}{720}{45}\HB{712}{735}{82}\HB{712}{720}{117}\HB{712}{720}{153}
\VB{692}{-2}{553}\HB{630}{692}{157}\HB{692}{760}{190}
\VB{787}{228}{300}\HB{787}{795}{228}\HB{787}{795}{297}\HB{755}{787}{263}
\VB{755}{263}{333}\HB{755}{790}{333}\VB{735}{297}{370}\HB{735}{755}{297}\HB{735}{742}{370}
\VB{712}{335}{445}\HB{712}{735}{335}\HB{712}{720}{405}\HB{712}{720}{441}\HB{692}{712}{390}
\HB{692}{710}{553}\WD{710}{553}{975}{462}{645}
\VB{630}{157}{790}\HB{630}{655}{790}
\VB{655}{665}{915}\HB{655}{665}{665}\HB{655}{768}{698}\HB{655}{676}{740}\HB{655}{695}{914}
\VB{720}{737}{770}\HB{676}{720}{752}\HB{720}{730}{737}\HB{720}{745}{770}
\VB{718}{810}{842}\HB{695}{718}{826}\HB{718}{725}{810}\HB{718}{740}{842}\HB{695}{718}{878}
\VB{695}{826}{880}\HB{676}{695}{853}
\VB{676}{740}{1077}\HB{676}{690}{950}\HB{676}{685}{986}\VB{695}{1010}{1135}\HB{676}{695}{1077}
\VB{610}{475}{1180}\HB{610}{630}{475}\HB{610}{630}{1180}\WD{630}{1180}{980}{1150}{1210}
\VB{500}{826}{1228}\HB{500}{610}{826}\HB{500}{568}{1228}
\VB{472}{1027}{1265}\HB{472}{500}{1027}\HB{472}{512}{1265}
\VB{437}{1143}{1300}\HB{437}{472}{1143}\HB{437}{680}{1300}
\VB{155}{1222}{1362}\HB{155}{437}{1222}\HB{155}{635}{1362}
\VB{635}{1334}{1390}\HB{635}{690}{1334}\HB{635}{738}{1390}\VB{738}{1372}{1410}\HB{738}{740}{1372}
\VB{138}{1292}{1445}\HB{138}{155}{1292}\HB{35}{138}{1365}\HB{138}{345}{1445}
\HB{175}{297}{1477}\VB{175}{1465}{1490}\VB{297}{1465}{1490}
\BT{242}{1508}{0.010}
\end{scope}
\end{tikzpicture}
\end{document}
